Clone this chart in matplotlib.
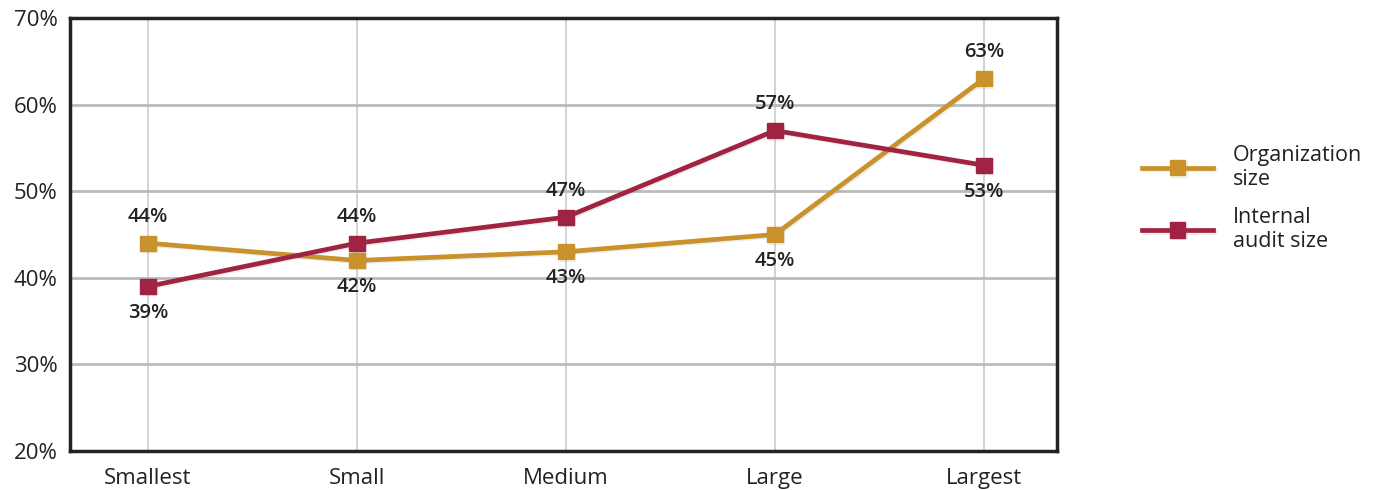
import matplotlib.pyplot as plt
import matplotlib.patheffects as pe

plt.rcParams['font.family'] = ['Open Sans', 'DejaVu Sans']

categories = ['Smallest', 'Small', 'Medium', 'Large', 'Largest']
org_size = [44, 42, 43, 45, 63]
audit_size = [39, 44, 47, 57, 53]
# label placement per point: +1 above, -1 below
org_side = [1, -1, -1, -1, 1]
audit_side = [-1, 1, 1, 1, -1]

gold = '#C9922B'
maroon = '#A12342'

fig = plt.figure(figsize=(13.76, 4.9), dpi=100)
ax = fig.add_axes([0.0509, 0.0796, 0.7173, 0.8837])

x = range(len(categories))
shadow = [pe.SimpleLineShadow(offset=(1, -1), shadow_color='#888888', alpha=0.15), pe.Normal()]
ax.plot(x, org_size, color=gold, lw=3.4, marker='s', ms=11, label='Organization\nsize',
        path_effects=shadow, zorder=3)
ax.plot(x, audit_size, color=maroon, lw=3.4, marker='s', ms=11, label='Internal\naudit size',
        path_effects=shadow, zorder=3)

for vals, sides in [(org_size, org_side), (audit_size, audit_side)]:
    for i, (v, s) in enumerate(zip(vals, sides)):
        ax.annotate(f'{v}%', (i, v), xytext=(0, 19 * s), textcoords='offset points',
                    ha='center', va='center', fontsize=14.5, color='#222222', fontweight='semibold')

ax.set_ylim(20, 70)
ax.set_xlim(-0.373, 4.35)
ax.set_yticks(range(20, 71, 10))
ax.set_yticklabels([f'{t}%' for t in range(20, 71, 10)])
ax.set_xticks(list(x))
ax.set_xticklabels(categories)
ax.tick_params(length=0, labelsize=16, colors='#222222')
ax.tick_params(axis='x', pad=12)
ax.tick_params(axis='y', pad=9)
ax.grid(axis='y', color='#bbbbbb', lw=2)
ax.grid(axis='x', color='#cccccc', lw=1.2)
ax.set_axisbelow(True)
for sp in ax.spines.values():
    sp.set_color('#222222')
    sp.set_linewidth(2.5)

fig.legend(loc='center left', bbox_to_anchor=(0.816, 0.595), frameon=False, fontsize=15.5,
           handlelength=3.3, handletextpad=0.9, labelspacing=0.8, labelcolor='#222222')

fig.savefig('out.png', dpi=100)
